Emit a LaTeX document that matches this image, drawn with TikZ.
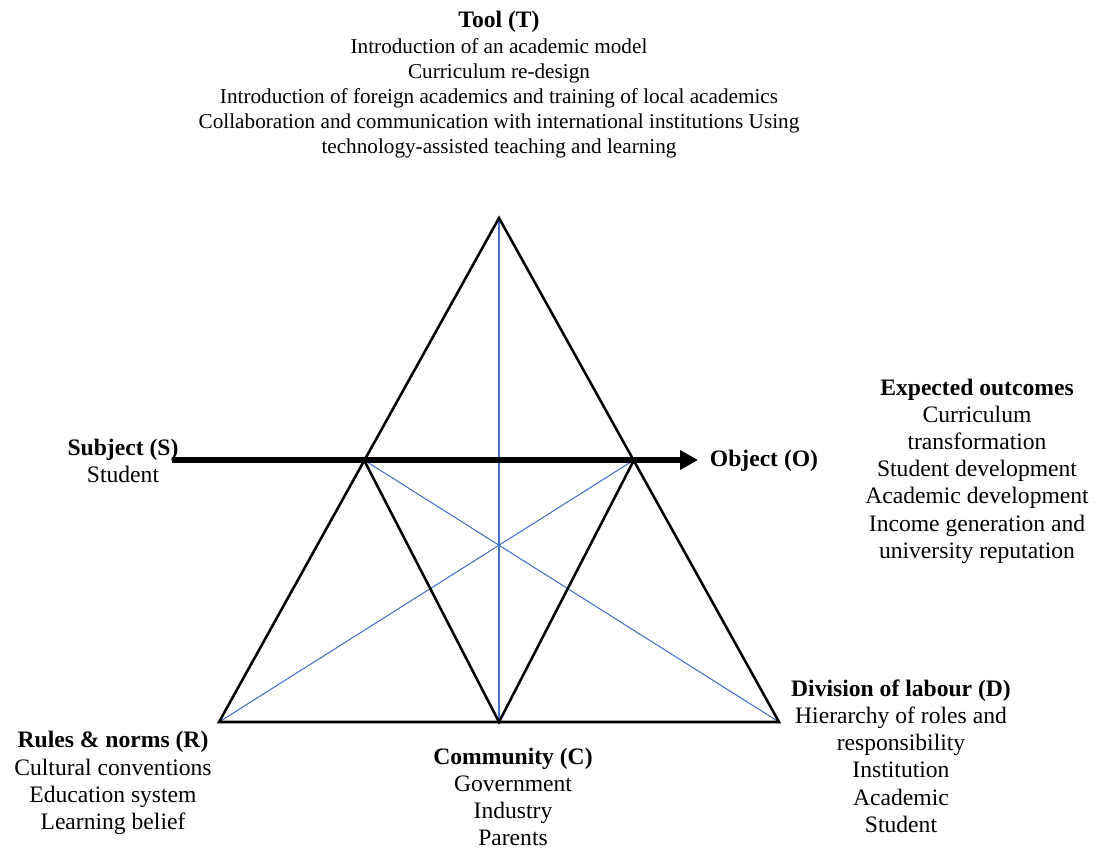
\documentclass[tikz,border=0pt]{standalone}
\usepackage{fontspec}
\setmainfont{Liberation Serif}
\usetikzlibrary{arrows.meta}
\definecolor{lineblue}{RGB}{68,114,196}
\tikzset{
  lbl/.style={align=center,inner sep=0pt,font=\fontsize{17.7}{20.4}\selectfont},
  toollbl/.style={align=center,inner sep=0pt,font=\fontsize{15.9}{18.9}\selectfont},
  tri/.style={line width=1.9pt,line join=miter},
  diag/.style={draw=lineblue,line width=0.8pt},
  mainarrow/.style={line width=4.5pt,-{Triangle[length=13.5pt,width=14pt]}}
}
\begin{document}
\begin{tikzpicture}[x=0.75pt,y=-0.75pt]
\useasboundingbox (0,0) rectangle (1098,850);
\coordinate (T) at (499,218);
\coordinate (L) at (219,722);
\coordinate (R) at (779,722);
\coordinate (M) at (499,722);
\coordinate (S) at (364,460);
\coordinate (O) at (634,460);
\coordinate (A0) at (172,460);
\coordinate (A1) at (698,460);
% blue lines
\draw[diag] (T) -- (M);
\draw[diag] (S) -- (R);
\draw[diag] (O) -- (L);
% triangles
\draw[tri] (T) -- (R) -- (L) -- cycle;
\draw[tri] (S) -- (M) -- (O);
% arrow
\draw[mainarrow] (A0) -- (A1);
% labels
\node[toollbl] (tool) at (499,85) {{\fontsize{17.7}{18.9}\selectfont\textbf{Tool (T)}}\\Introduction of an academic model\\Curriculum re-design\\Introduction of foreign academics and training of local academics\\Collaboration and communication with international institutions Using\\technology-assisted teaching and learning};
\node[lbl] (subj) at (123,461) {\textbf{Subject (S)}\\Student};
\node[lbl] (obj) at (764,461) {\textbf{Object (O)}};
\node[lbl] (exp) at (977,471) {\textbf{Expected outcomes}\\Curriculum\\transformation\\Student development\\Academic development\\Income generation and\\university reputation};
\node[lbl] (div) at (901,756) {\textbf{Division of labour (D)}\\Hierarchy of roles and\\responsibility\\Institution\\Academic\\Student};
\node[lbl] (rules) at (113,783) {\textbf{Rules \& norms (R)}\\Cultural conventions\\Education system\\Learning belief};
\node[lbl] (comm) at (513,797) {\textbf{Community (C)}\\Government\\Industry\\Parents};
\end{tikzpicture}
\end{document}
